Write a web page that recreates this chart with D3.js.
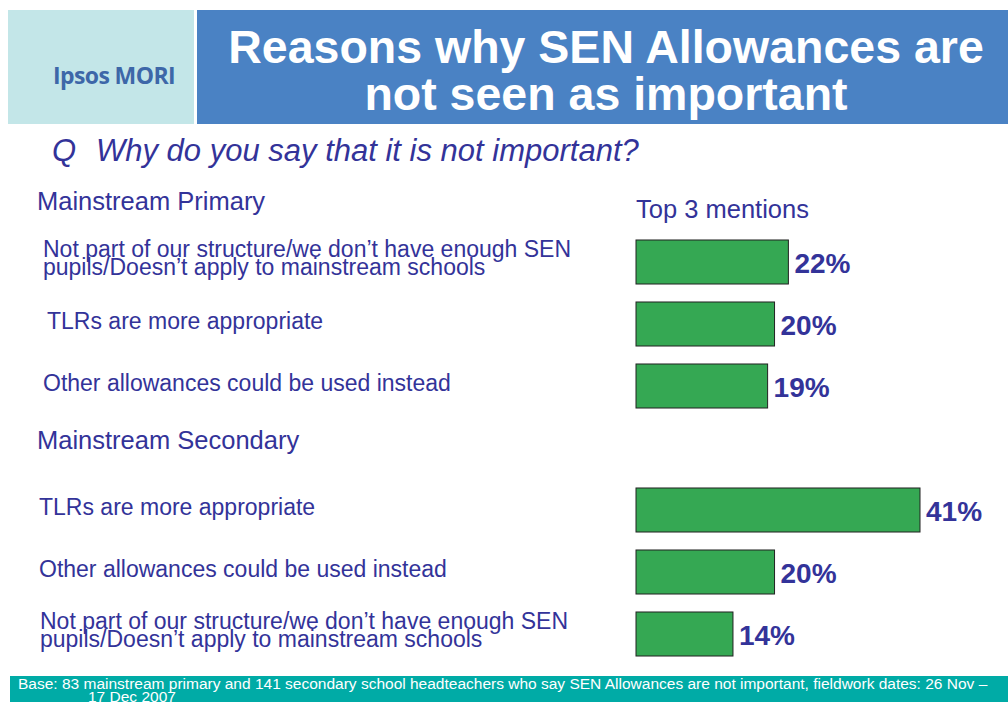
<!DOCTYPE html>
<html>
<head>
<meta charset="utf-8">
<script src="https://cdn.jsdelivr.net/npm/d3@7"></script>
<style>
  body { margin: 0; background: #fff; }
  svg { display: block; font-family: "Liberation Sans", Arial, sans-serif; }
</style>
</head>
<body>
<div class="chart"></div>
<script>
var svgWidth = 1008;
var svgHeight = 702;

// data
var groups = ["Mainstream Primary", "Mainstream Secondary"];
var categories = [
  ["Not part of our structure/we don\u2019t have enough SEN", "pupils/Doesn\u2019t apply to mainstream schools"],
  ["TLRs are more appropriate"],
  ["Other allowances could be used instead"],
  ["TLRs are more appropriate"],
  ["Other allowances could be used instead"],
  ["Not part of our structure/we don\u2019t have enough SEN", "pupils/Doesn\u2019t apply to mainstream schools"]
];
var values = [22, 20, 19, 41, 20, 14];

var navy = "#333399";

var svg = d3.select(".chart")
  .append("svg")
  .attr("width", svgWidth)
  .attr("height", svgHeight);

// header boxes
svg.append("rect")
  .attr("x", 8).attr("y", 10)
  .attr("width", 186).attr("height", 114)
  .attr("fill", "#c3e6e8");

svg.append("rect")
  .attr("x", 197).attr("y", 10)
  .attr("width", 811).attr("height", 114)
  .attr("fill", "#4a82c4");

svg.append("text")
  .attr("x", 114).attr("y", 84)
  .attr("text-anchor", "middle")
  .attr("fill", "#3d67a8")
  .style("font-family", "'Open Sans', sans-serif")
  .style("font-weight", "bold")
  .style("font-size", "23px")
  .style("letter-spacing", "-0.6px")
  .text("Ipsos MORI");

var title = svg.append("text")
  .attr("text-anchor", "middle")
  .attr("fill", "#fff")
  .style("font-weight", "bold")
  .style("font-size", "46.5px");
title.append("tspan").attr("x", 606).attr("y", 63).text("Reasons why SEN Allowances are");
title.append("tspan").attr("x", 606).attr("y", 110).text("not seen as important");

// question
var q = svg.append("text")
  .attr("y", 161)
  .attr("fill", navy)
  .style("font-style", "italic")
  .style("font-size", "31px");
q.append("tspan").attr("x", 52).text("Q");
q.append("tspan").attr("x", 96).text("Why do you say that it is not important?");

// row slots: group header, 3 items, group header, 3 items
var slots = d3.range(8);
var slotOfItem = [1, 2, 3, 5, 6, 7];
var slotOfGroup = [0, 4];

var y = d3.scaleBand()
  .domain(slots)
  .range([169, 665])
  .paddingInner(0.29)
  .paddingOuter(0.145);

var x = d3.scaleLinear()
  .domain([0, 41])
  .range([636, 920]);

// group headers
svg.selectAll(".group")
  .data(groups)
  .enter()
  .append("text")
  .attr("class", "group")
  .attr("x", 37)
  .attr("y", (d, i) => y(slotOfGroup[i]) + y.bandwidth() / 2 + (i === 0 ? 10 : 1))
  .attr("fill", navy)
  .style("font-size", "25.5px")
  .text(d => d);

svg.append("text")
  .attr("x", 636)
  .attr("y", y(0) + y.bandwidth() / 2 + 18)
  .attr("fill", navy)
  .style("font-size", "25.5px")
  .text("Top 3 mentions");

// category labels
var labelX = [43, 47, 43, 39, 39, 40];
var cats = svg.selectAll(".cat")
  .data(categories)
  .enter()
  .append("text")
  .attr("class", "cat")
  .attr("fill", navy)
  .style("font-size", "23px");

cats.each(function (lines, i) {
  var cy = y(slotOfItem[i]) + y.bandwidth() / 2;
  var t = d3.select(this);
  if (lines.length === 1) {
    t.append("tspan").attr("x", labelX[i]).attr("y", cy + 5).text(lines[0]);
  } else {
    t.append("tspan").attr("x", labelX[i]).attr("y", cy - 5).text(lines[0]);
    t.append("tspan").attr("x", labelX[i]).attr("y", cy + 13).text(lines[1]);
  }
});

// bars
svg.selectAll(".bar")
  .data(values)
  .enter()
  .append("rect")
  .attr("class", "bar")
  .attr("x", x(0))
  .attr("y", (d, i) => y(slotOfItem[i]))
  .attr("width", d => x(d) - x(0))
  .attr("height", y.bandwidth())
  .attr("fill", "#35a853")
  .attr("stroke", "#222")
  .attr("stroke-width", 1);

// value labels
svg.selectAll(".val")
  .data(values)
  .enter()
  .append("text")
  .attr("class", "val")
  .attr("x", d => x(d) + 6)
  .attr("y", (d, i) => y(slotOfItem[i]) + y.bandwidth() / 2 + 11)
  .attr("fill", navy)
  .style("font-weight", "bold")
  .style("font-size", "28px")
  .text(d => d + "%");

// footer
svg.append("rect")
  .attr("x", 10).attr("y", 676)
  .attr("width", 998).attr("height", 26)
  .attr("fill", "#00aba6");

var foot = svg.append("text")
  .attr("fill", "#fff")
  .style("font-size", "15.5px");
foot.append("tspan").attr("x", 18).attr("y", 689)
  .text("Base:  83 mainstream primary and 141 secondary school headteachers who say SEN Allowances are not important, fieldwork dates: 26 Nov \u2013");
foot.append("tspan").attr("x", 88).attr("y", 702).text("17 Dec 2007");
</script>
</body>
</html>
